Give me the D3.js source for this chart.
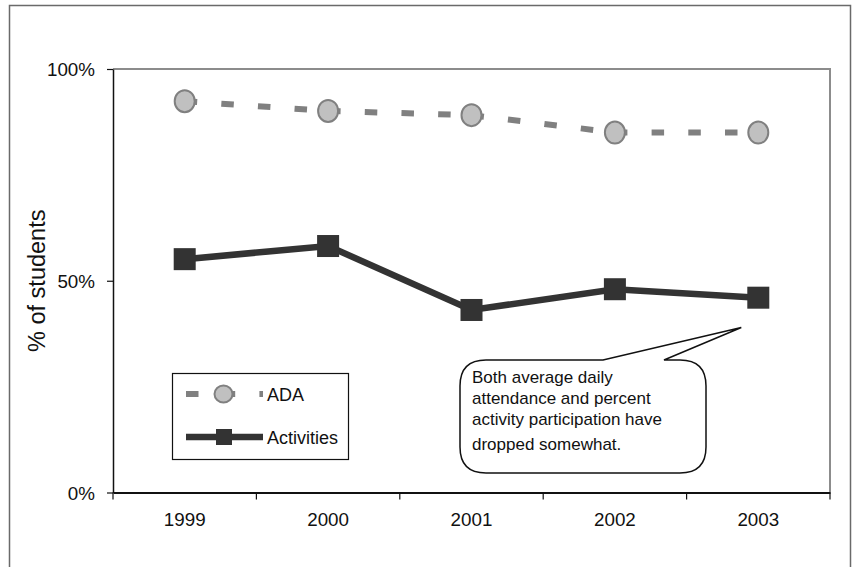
<!DOCTYPE html>
<html>
<head>
<meta charset="utf-8">
<script src="https://cdn.jsdelivr.net/npm/d3@7"></script>
<style>
  html, body { margin: 0; padding: 0; background: #fff; }
  svg { display: block; font-family: "Liberation Sans", Arial, sans-serif; }
</style>
</head>
<body>
<svg id="chart" width="856" height="567"></svg>
<script>
// ---- data ----
const years = ["1999", "2000", "2001", "2002", "2003"];
const adaValues = [0.924, 0.901, 0.891, 0.850, 0.850];
const activityValues = [0.551, 0.582, 0.431, 0.480, 0.460];
const yTickValues = [0, 0.5, 1];
const seriesNames = ["ADA", "Activities"];
const yAxisTitle = "% of students";
const calloutLines = ["Both average daily", "attendance and percent", "activity participation have", "dropped somewhat."];

// ---- layout ----
const svg = d3.select("#chart");
const plot = { left: 113, right: 830, top: 69, bottom: 492.5 };

const x = d3.scaleBand().domain(years).range([plot.left, plot.right]).padding(0);
const cx = d => x(d) + x.bandwidth() / 2;
const y = d3.scaleLinear().domain([0, 1]).range([plot.bottom, plot.top]);

// outer frame
svg.append("rect")
  .attr("x", 9.5).attr("y", 5.5).attr("width", 841).attr("height", 600)
  .attr("fill", "none").attr("stroke", "#6a6a6a").attr("stroke-width", 1.5);

// plot area border (top and right gray)
svg.append("path")
  .attr("d", `M${plot.left},${plot.top}H${plot.right}V${plot.bottom}`)
  .attr("fill", "none").attr("stroke", "#8c8c8c").attr("stroke-width", 2);

// y axis
const yAxis = svg.append("g")
  .attr("transform", `translate(${plot.left},0)`)
  .call(d3.axisLeft(y).tickValues(yTickValues).tickFormat(d3.format(".0%")).tickSize(6).tickSizeOuter(0));
yAxis.select(".domain").attr("stroke", "#111").attr("stroke-width", 1.5);
yAxis.selectAll(".tick line").attr("stroke", "#111").attr("stroke-width", 1.2);
yAxis.selectAll(".tick text")
  .attr("x", -18).attr("dy", "0.35em")
  .attr("font-size", 18.8).attr("font-family", "Liberation Sans, Arial, sans-serif").attr("fill", "#111");

// x axis
const xAxis = svg.append("g")
  .attr("transform", `translate(0,${plot.bottom})`)
  .call(d3.axisBottom(x).tickSize(0).tickSizeOuter(0));
xAxis.select(".domain").attr("stroke", "#111").attr("stroke-width", 2);
xAxis.selectAll(".tick text")
  .attr("y", 33).attr("dy", 0)
  .attr("font-size", 18.8).attr("font-family", "Liberation Sans, Arial, sans-serif").attr("fill", "#111");
// boundary ticks
const edges = years.map(d => x(d)).concat([x(years[years.length - 1]) + x.bandwidth()]);
xAxis.selectAll(".edge").data(edges).enter().append("line")
  .attr("class", "edge")
  .attr("x1", d => d).attr("x2", d => d).attr("y1", 0).attr("y2", 7)
  .attr("stroke", "#111").attr("stroke-width", 1.2);

// y axis title
svg.append("text")
  .attr("transform", `translate(45,${(plot.top + plot.bottom) / 2}) rotate(-90)`)
  .attr("text-anchor", "middle")
  .attr("font-size", 23.5).attr("fill", "#111")
  .text(yAxisTitle);

// ---- ADA series (dashed, pattern restarts at each point) ----
const adaColor = "#808080";
const adaPairs = d3.pairs(years.map((d, i) => [cx(d), y(adaValues[i])]));
svg.append("g").selectAll("line").data(adaPairs).enter().append("line")
  .attr("x1", d => d[0][0]).attr("y1", d => d[0][1])
  .attr("x2", d => d[1][0]).attr("y2", d => d[1][1])
  .attr("stroke", adaColor).attr("stroke-width", 6)
  .attr("stroke-dasharray", "12.5,24.2");
svg.append("g").selectAll("ellipse").data(years).enter().append("ellipse")
  .attr("cx", d => cx(d)).attr("cy", (d, i) => y(adaValues[i]))
  .attr("rx", 10).attr("ry", 11)
  .attr("fill", "#c0c0c0").attr("stroke", adaColor).attr("stroke-width", 2);

// ---- Activities series ----
const actColor = "#333333";
const line = d3.line().x((d, i) => cx(years[i])).y(d => y(d));
svg.append("path").datum(activityValues)
  .attr("d", line).attr("fill", "none")
  .attr("stroke", actColor).attr("stroke-width", 6.5).attr("stroke-linejoin", "miter");
const sq = 22;
svg.append("g").selectAll("rect").data(activityValues).enter().append("rect")
  .attr("x", (d, i) => cx(years[i]) - sq / 2).attr("y", d => y(d) - sq / 2)
  .attr("width", sq).attr("height", sq)
  .attr("fill", actColor);

// ---- legend ----
const lg = svg.append("g");
lg.append("rect").attr("x", 172.5).attr("y", 373.5).attr("width", 176).attr("height", 86)
  .attr("fill", "#fff").attr("stroke", "#111").attr("stroke-width", 1.2);
// ADA sample
lg.append("line").attr("x1", 186).attr("x2", 263).attr("y1", 394).attr("y2", 394)
  .attr("stroke", adaColor).attr("stroke-width", 6).attr("stroke-dasharray", "12.5,24.2");
lg.append("ellipse").attr("cx", 223.5).attr("cy", 394).attr("rx", 9).attr("ry", 8.5)
  .attr("fill", "#c0c0c0").attr("stroke", adaColor).attr("stroke-width", 2);
lg.append("text").attr("x", 267).attr("y", 401).attr("font-size", 18).attr("fill", "#111").text(seriesNames[0]);
// Activities sample
lg.append("line").attr("x1", 186).attr("x2", 263).attr("y1", 437).attr("y2", 437)
  .attr("stroke", actColor).attr("stroke-width", 6.5);
lg.append("rect").attr("x", 216).attr("y", 429).attr("width", 16).attr("height", 16).attr("fill", actColor);
lg.append("text").attr("x", 267).attr("y", 444).attr("font-size", 18).attr("fill", "#111").text(seriesNames[1]);

// ---- callout ----
const bx0 = 460, bx1 = 706, by0 = 360, by1 = 473, r = 26;
const tip = [cx(years[4]) - 17, 327.5];
const wedgeA = 603, wedgeB = 664;
const p = d3.path();
p.moveTo(bx0 + r, by0);
p.lineTo(wedgeA, by0);
p.lineTo(tip[0], tip[1]);
p.lineTo(wedgeB, by0);
p.lineTo(bx1 - r, by0);
p.quadraticCurveTo(bx1, by0, bx1, by0 + r);
p.lineTo(bx1, by1 - r);
p.quadraticCurveTo(bx1, by1, bx1 - r, by1);
p.lineTo(bx0 + r, by1);
p.quadraticCurveTo(bx0, by1, bx0, by1 - r);
p.lineTo(bx0, by0 + r);
p.quadraticCurveTo(bx0, by0, bx0 + r, by0);
p.closePath();
svg.append("path").attr("d", p.toString())
  .attr("fill", "#fff").attr("stroke", "#111").attr("stroke-width", 1.5).attr("stroke-linejoin", "miter");

const baselines = [383, 404, 425, 449.5];
svg.append("g").selectAll("text").data(calloutLines).enter().append("text")
  .attr("x", 472).attr("y", (d, i) => baselines[i])
  .attr("font-size", 17).attr("fill", "#111")
  .text(d => d);
</script>
</body>
</html>
